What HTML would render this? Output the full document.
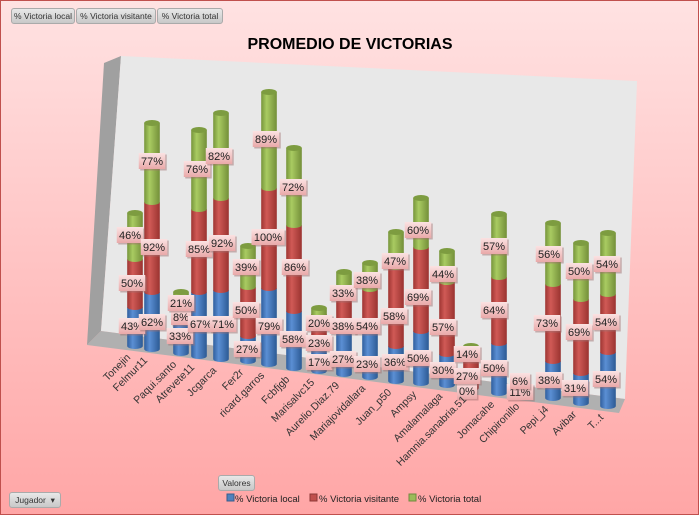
<!DOCTYPE html>
<html><head><meta charset="utf-8">
<style>
html,body{margin:0;padding:0;}
body{width:699px;height:515px;overflow:hidden;font-family:"Liberation Sans",sans-serif;}
#c{position:absolute;left:0;top:0;width:697px;height:513px;border:1px solid #c0504d;background:linear-gradient(#ffe2e2,#ffa6a6);}
.btn{position:absolute;height:14px;font-size:8.5px;line-height:14px;color:#333;background:linear-gradient(#e8e8e8,#c8c8c8);border:1px solid #aaa;border-radius:3px;text-align:center;white-space:nowrap;overflow:hidden;}
</style></head><body>
<div id="c">
<div class="btn" style="left:10px;top:7px;width:62px;">% Victoria local</div>
<div class="btn" style="left:75px;top:7px;width:78px;">% Victoria visitante</div>
<div class="btn" style="left:156px;top:7px;width:64px;">% Victoria total</div>
<div class="btn" style="left:217px;top:474px;width:35px;">Valores</div>
<div class="btn" style="left:8px;top:491px;width:50px;">Jugador &nbsp;▾</div>
<svg id="s" width="699" height="515" style="position:absolute;left:0;top:0">
<defs>
<linearGradient id="gb" x1="0" x2="1"><stop offset="0" stop-color="#2f5f9e"/><stop offset=".35" stop-color="#5b8fd4"/><stop offset="1" stop-color="#2c5a94"/></linearGradient>
<linearGradient id="gr" x1="0" x2="1"><stop offset="0" stop-color="#9e3532"/><stop offset=".35" stop-color="#d05a56"/><stop offset="1" stop-color="#9a3330"/></linearGradient>
<linearGradient id="gg" x1="0" x2="1"><stop offset="0" stop-color="#76953a"/><stop offset=".35" stop-color="#a9cb62"/><stop offset="1" stop-color="#738f38"/></linearGradient>
<linearGradient id="lb" x1="0" y1="0" x2="0" y2="1"><stop offset="0" stop-color="#fbe2e2"/><stop offset="1" stop-color="#e9a9a9"/></linearGradient>
</defs>
<polygon points="103,62 120,55 100,330 86,344" fill="#a0a0a0"/>
<polygon points="120,55 636,80 624,398 100,330" fill="#e8e8e8"/>
<polygon points="86,344 100,330 624,398 618,412" fill="#b0b0b0"/>
<text x="349" y="48" text-anchor="middle" font-size="16" font-weight="bold" fill="#000">PROMEDIO DE VICTORIAS</text>
<g id="bars"></g>
<g id="labs"></g>
<g id="xl" font-size="10.5" fill="#333"></g>
<rect x="226" y="493" width="7" height="7" fill="#4f81bd" stroke="#385d8a"/>
<text x="234" y="501" font-size="9.5" fill="#222">% Victoria local</text>
<rect x="309" y="493" width="7" height="7" fill="#c0504d" stroke="#8c3836"/>
<text x="318" y="501" font-size="9.5" fill="#222">% Victoria visitante</text>
<rect x="408" y="493" width="7" height="7" fill="#9bbb59" stroke="#71893f"/>
<text x="417" y="501" font-size="9.5" fill="#222">% Victoria total</text>
</svg>
</div>
<script>
var B=[
["Tonejin",134,345,306,258,212,[[131,325,"43%"],[131,282,"50%"],[129,234,"46%"]]],
["Felmur11",151,348,291,201,122,[[151,321,"62%"],[153,246,"92%"],[151,160,"77%"]]],
["Paqui.santo",180,352,305,297,291,[[179,335,"33%"],[180,316,"8%"],[180,302,"21%"]]],
["Atrevete11",198,355,291,208,129,[[200,323,"67%"],[198,248,"85%"],[196,168,"76%"]]],
["Jcgarca",220,358,289,197,112,[[222,323,"71%"],[221,242,"92%"],[218,155,"82%"]]],
["Fer2r",247,360,335,286,245,[[246,348,"27%"],[245,309,"50%"],[245,266,"39%"]]],
["ricard.garros",268,363,287,187,91,[[268,325,"79%"],[267,236,"100%"],[265,138,"89%"]]],
["Fcbfjgb",293,367,310,224,147,[[292,338,"58%"],[294,266,"86%"],[292,186,"72%"]]],
["Marisalvc15",318,370,340,313,307,[[318,361,"17%"],[318,342,"23%"],[318,322,"20%"]]],
["Aurelio.Diaz.79",343,373,320,297,271,[[342,358,"27%"],[342,325,"38%"],[342,292,"33%"]]],
["Mariajovidallara",369,376,322,288,262,[[366,363,"23%"],[366,325,"54%"],[366,279,"38%"]]],
["Juan_p50",395,380,345,266,231,[[394,361,"36%"],[393,315,"58%"],[394,260,"47%"]]],
["Ampsy",420,382,330,246,197,[[417,357,"50%"],[417,296,"69%"],[417,229,"60%"]]],
["Amalamalaga",446,384,353,281,250,[[442,369,"30%"],[442,326,"57%"],[442,273,"44%"]]],
["Hamnia.sanabria.51",470,387,387,350,345,[[466,390,"0%"],[466,375,"27%"],[466,353,"14%"]]],
["Jomacahe",498,392,342,276,213,[[493,367,"50%"],[493,309,"64%"],[493,245,"57%"]]],
["Chipironillo",523,394,392,389,386,[[519,391,"11%"],[519,380,"6%"]]],
["Pepi_j4",552,397,360,283,222,[[548,379,"38%"],[546,322,"73%"],[548,253,"56%"]]],
["Avibar",580,402,372,298,242,[[574,387,"31%"],[578,331,"69%"],[578,270,"50%"]]],
["T...t",607,405,351,293,232,[[605,378,"54%"],[605,321,"54%"],[606,263,"54%"]]]
];
var ns="http://www.w3.org/2000/svg",bars=document.getElementById("bars"),labs=document.getElementById("labs"),xl=document.getElementById("xl");
function el(p,t,a,txt){var e=document.createElementNS(ns,t);for(var k in a)e.setAttribute(k,a[k]);if(txt)e.textContent=txt;p.appendChild(e);return e;}
var w=7.8,ry=3;
function seg(x,yb,yt,g,top){
 if(yb-yt<0.5)return;
 el(bars,"path",{d:"M"+(x-w)+","+yt+" L"+(x-w)+","+yb+" A"+w+","+ry+" 0 0 0 "+(x+w)+","+yb+" L"+(x+w)+","+yt+" Z",fill:"url(#"+g+")"});
 if(top)el(bars,"ellipse",{cx:x,cy:yt,rx:w,ry:ry,fill:top});
}
B.forEach(function(b){
 var x=b[1];
 seg(x,b[2],b[3],"gb");
 seg(x,b[3],b[4],"gr");
 seg(x,b[4],b[5],"gg","#7d9c40");
 b[6].forEach(function(l){
  var tw=l[2].length*6.5+7;
  el(labs,"rect",{x:l[0]-tw/2+1.5,y:l[1]-8+1.5,width:tw,height:16,fill:"#a07070",opacity:.5});
  el(labs,"rect",{x:l[0]-tw/2,y:l[1]-8,width:tw,height:16,fill:"url(#lb)"});
  el(labs,"text",{x:l[0],y:l[1]+4,"text-anchor":"middle","font-size":"11",fill:"#222"},l[2]);
 });
 el(xl,"text",{x:0,y:0,"text-anchor":"end",transform:"translate("+(x-4)+","+(b[2]+12)+") rotate(-45)"},b[0]);
});
</script>
</body></html>
